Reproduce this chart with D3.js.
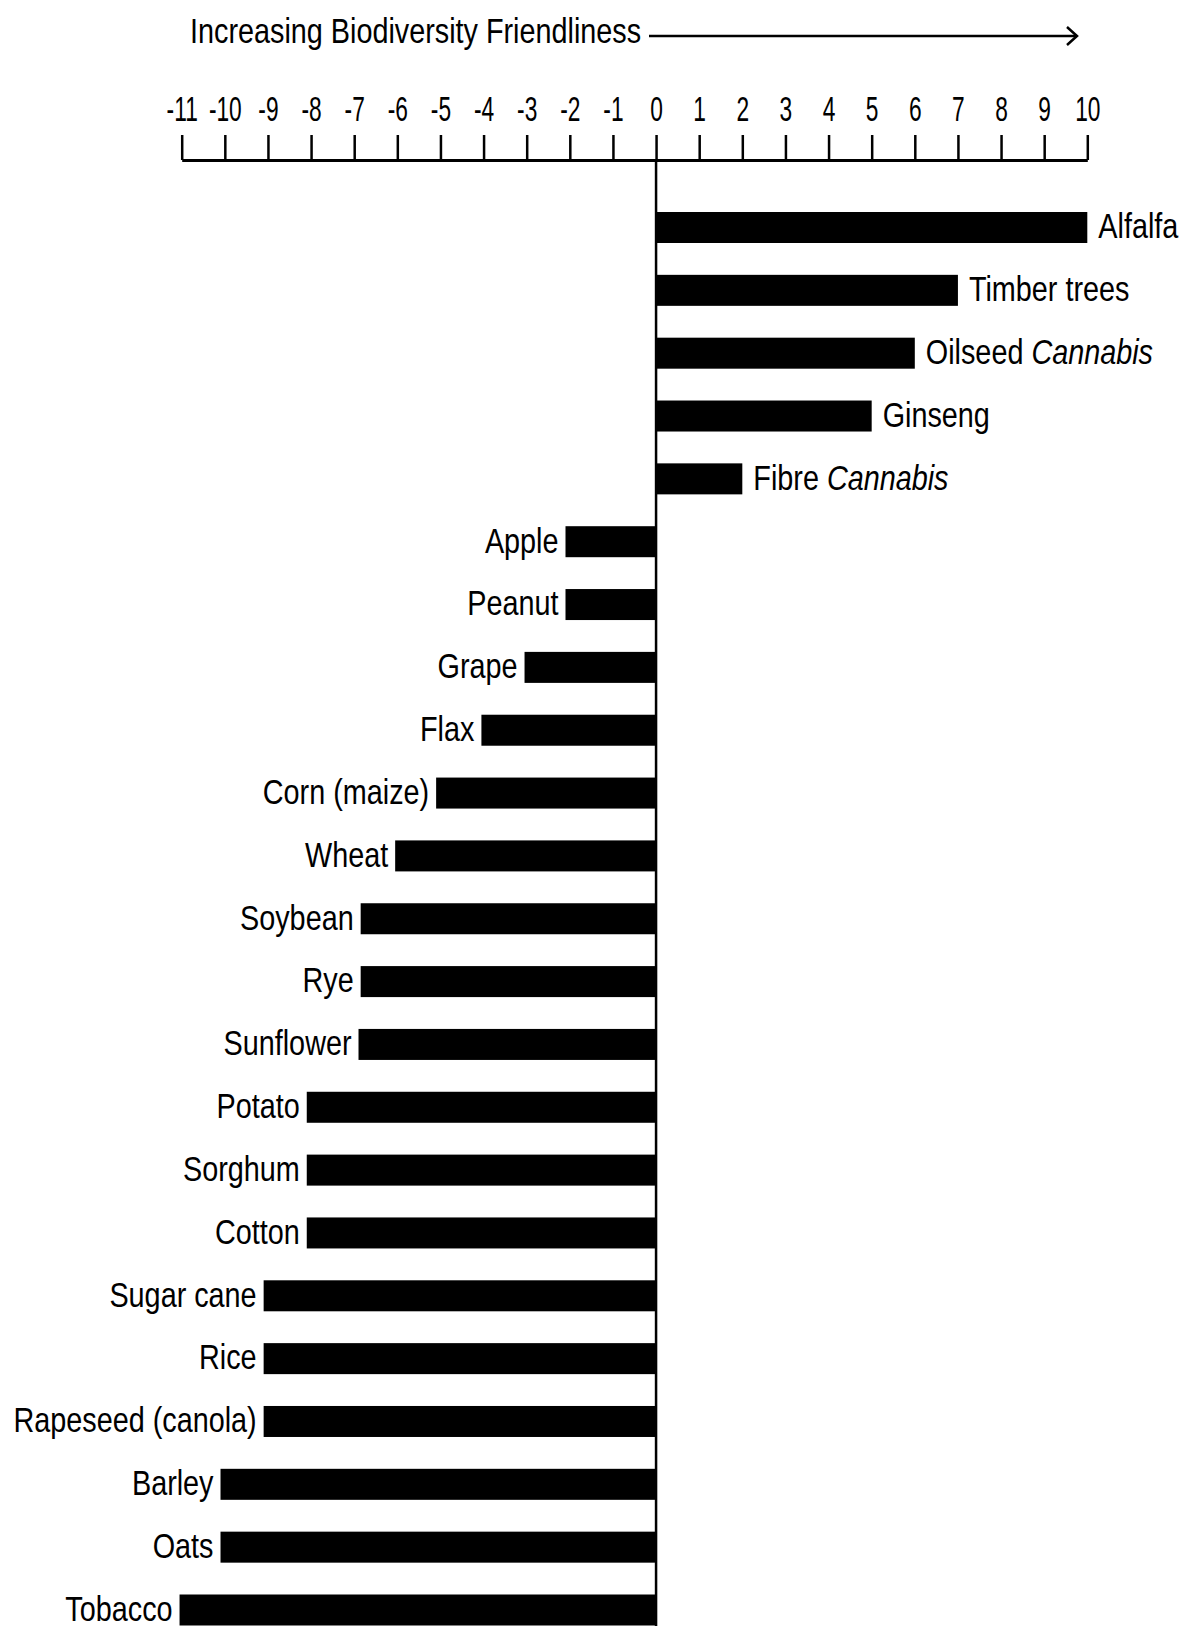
<!DOCTYPE html>
<html>
<head>
<meta charset="utf-8">
<script src="https://cdn.jsdelivr.net/npm/d3@7"></script>
<style>
  html, body { margin: 0; padding: 0; background: #fff; }
  svg text { font-family: "Liberation Sans", Arial, sans-serif; fill: #000; }
</style>
</head>
<body>
<svg id="chart" width="1188" height="1629"></svg>
<script>
const crops = ["Alfalfa", "Timber trees", "Oilseed Cannabis", "Ginseng", "Fibre Cannabis",
  "Apple", "Peanut", "Grape", "Flax", "Corn (maize)", "Wheat", "Soybean", "Rye", "Sunflower",
  "Potato", "Sorghum", "Cotton", "Sugar cane", "Rice", "Rapeseed (canola)", "Barley", "Oats", "Tobacco"];
const scores = [10, 7, 6, 5, 2,
  -2.1, -2.1, -3.05, -4.05, -5.1, -6.05, -6.85, -6.85, -6.9,
  -8.1, -8.1, -8.1, -9.1, -9.1, -9.1, -10.1, -10.1, -11.05];
const italicWords = ["Cannabis"];
const tickValues = [-11, -10, -9, -8, -7, -6, -5, -4, -3, -2, -1, 0, 1, 2, 3, 4, 5, 6, 7, 8, 9, 10];
const axisTitle = "Increasing Biodiversity Friendliness";

const svg = d3.select("#chart");
const x = d3.scaleLinear().domain([-11, 10]).range([181.7, 1087.3]);
const y = d3.scalePoint().domain(crops).range([227.5, 1610]);
const barH = 31;
const axisY = 160;
const labelSize = 36, labelSX = 0.8;
const tickSize = 35, tickSX = 0.65;

// Title and arrow
svg.append("text")
  .attr("transform", `translate(190,43) scale(0.8,1)`)
  .attr("font-size", 36)
  .text(axisTitle);
svg.append("line")
  .attr("x1", 649).attr("x2", 1077).attr("y1", 36).attr("y2", 36)
  .attr("stroke", "#000").attr("stroke-width", 2.5);
svg.append("path")
  .attr("d", "M1067,27 L1077,36 L1067,45")
  .attr("fill", "none").attr("stroke", "#000").attr("stroke-width", 2.5);

// Axis
const axis = d3.axisTop(x).tickValues(tickValues).tickSize(25).tickSizeOuter(0).tickPadding(14)
  .tickFormat(d => String(d));
const gAxis = svg.append("g").attr("transform", `translate(0,${axisY})`).call(axis);
gAxis.select(".domain").attr("stroke", "#000").attr("stroke-width", 3);
gAxis.selectAll(".tick line").attr("stroke", "#000").attr("stroke-width", 2.5);
gAxis.selectAll(".tick text")
  .attr("font-size", tickSize).attr("fill", "#000")
  .attr("transform", `scale(${tickSX},1)`)
  .style("font-family", "\"Liberation Sans\", Arial, sans-serif");

// Zero line
svg.append("line")
  .attr("x1", x(0)).attr("x2", x(0)).attr("y1", axisY).attr("y2", 1626)
  .attr("stroke", "#000").attr("stroke-width", 2.5);

// Bars
const rows = crops.map((c, i) => ({ c, v: scores[i] }));
svg.append("g").selectAll("rect")
  .data(rows)
  .join("rect")
  .attr("x", d => x(Math.min(0, d.v)))
  .attr("width", d => Math.abs(x(d.v) - x(0)))
  .attr("y", d => y(d.c) - barH / 2)
  .attr("height", barH)
  .attr("fill", "#000");

// Labels
const labels = svg.append("g").selectAll("text")
  .data(rows)
  .join("text")
  .attr("transform", d => {
    const lx = d.v >= 0 ? x(d.v) + 11 : x(d.v) - 7;
    return `translate(${lx},${y(d.c)}) scale(${labelSX},1)`;
  })
  .attr("dy", "0.3em")
  .attr("font-size", labelSize)
  .attr("text-anchor", d => d.v >= 0 ? "start" : "end");

labels.each(function(d) {
  const t = d3.select(this);
  d.c.split(" ").forEach((p, i) => {
    t.append("tspan")
      .attr("font-style", italicWords.includes(p) ? "italic" : "normal")
      .text((i > 0 ? " " : "") + p);
  });
});
</script>
</body>
</html>
